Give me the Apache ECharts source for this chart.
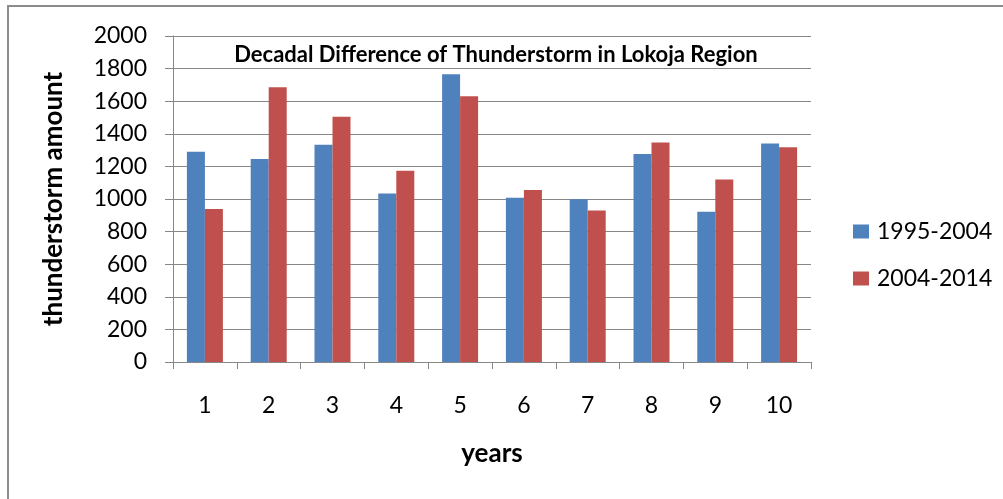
<!DOCTYPE html>
<html>
<head>
<meta charset="utf-8">
<title>Decadal Difference of Thunderstorm in Lokoja Region</title>
<script src="https://cdn.jsdelivr.net/npm/echarts@6/dist/echarts.min.js"></script>
<style>
  html, body { margin: 0; padding: 0; background: #fff; }
  #chart { width: 1003px; height: 499px; }
</style>
</head>
<body>
<div id="chart"></div>
<script>
// years 1..10
const years = ['1', '2', '3', '4', '5', '6', '7', '8', '9', '10']
// 1995-2004 decade
const decadeA = [1290, 1245, 1333, 1033, 1765, 1008, 998, 1276, 922, 1340]
// 2004-2014 decade
const decadeB = [939, 1685, 1505, 1174, 1630, 1055, 930, 1346, 1119, 1317]
const seriesNames = ['1995-2004', '2004-2014']

const font = 'Lato, "Open Sans", sans-serif'
const axisGray = '#878787'

const myChart = echarts.init(document.getElementById('chart'))
const option = {
  animation: false,
  color: ['#4F81BD', '#C0504D'],
  title: {
    text: 'Decadal Difference of Thunderstorm in Lokoja Region',
    left: 491,
    top: 39,
    textAlign: 'center',
    textStyle: { fontFamily: font, fontSize: 22, fontWeight: 'bold', color: '#000' }
  },
  legend: {
    orient: 'vertical',
    left: 853,
    top: 220,
    padding: 0,
    itemWidth: 16,
    itemHeight: 14,
    itemGap: 24,
    icon: 'rect',
    data: seriesNames,
    textStyle: { fontFamily: font, fontSize: 23, color: '#000', padding: [0, 0, 0, 3] }
  },
  grid: { left: 173, right: 192, top: 36, bottom: 137 },
  xAxis: {
    type: 'category',
    data: years,
    name: 'years',
    nameLocation: 'middle',
    nameGap: 79,
    nameTextStyle: { fontFamily: font, fontSize: 26, fontWeight: 'bold', color: '#000' },
    axisLine: { lineStyle: { color: axisGray, width: 1 } },
    axisTick: { show: true, length: 7, lineStyle: { color: axisGray } },
    axisLabel: { margin: 32, fontFamily: font, fontSize: 23, color: '#000' }
  },
  yAxis: {
    type: 'value',
    min: 0,
    max: 2000,
    interval: 200,
    name: 'thunderstorm amount',
    nameLocation: 'middle',
    nameGap: 106,
    nameTextStyle: { fontFamily: font, fontSize: 26, fontWeight: 'bold', color: '#000' },
    axisLine: { show: true, lineStyle: { color: axisGray, width: 1 } },
    axisTick: { show: true, length: 8, lineStyle: { color: axisGray } },
    axisLabel: {
      margin: 26,
      fontFamily: font,
      fontSize: 23,
      color: '#000',
      formatter: function (v) { return String(v) }
    },
    splitLine: { lineStyle: { color: axisGray, width: 1 } }
  },
  series: [
    {
      name: seriesNames[0],
      type: 'bar',
      data: decadeA,
      barWidth: 18,
      barGap: '0%'
    },
    {
      name: seriesNames[1],
      type: 'bar',
      data: decadeB,
      barWidth: 18,
      barGap: '0%'
    }
  ],
  graphic: [
    {
      type: 'rect',
      shape: { x: 8, y: 6, width: 1010, height: 510 },
      style: { fill: 'none', stroke: '#8c8c8c', lineWidth: 2 },
      silent: true
    }
  ]
}
myChart.setOption(option)
</script>
</body>
</html>
